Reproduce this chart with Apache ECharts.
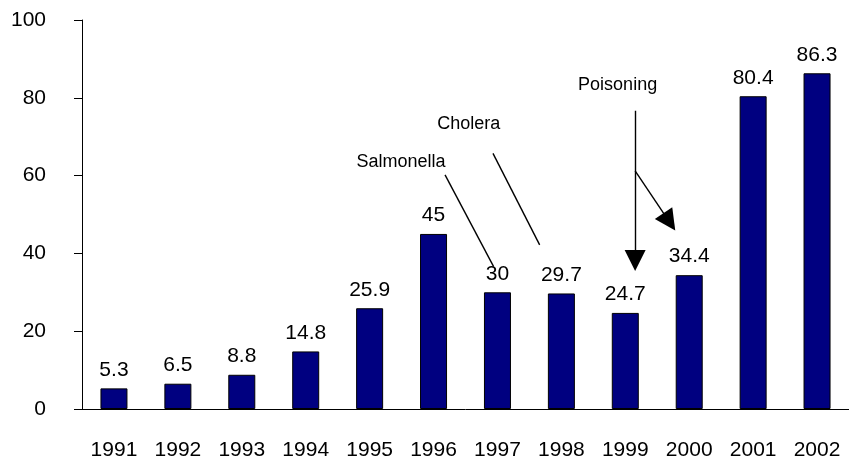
<!DOCTYPE html>
<html>
<head>
<meta charset="utf-8">
<script src="https://cdn.jsdelivr.net/npm/echarts@6/dist/echarts.min.js"></script>
<style>
  html, body { margin: 0; padding: 0; background: #fff; }
  #chart { width: 849px; height: 461px; }
</style>
</head>
<body>
<div id="chart"></div>
<script>
// data
var years = ['1991', '1992', '1993', '1994', '1995', '1996', '1997', '1998', '1999', '2000', '2001', '2002'];
var values = [5.3, 6.5, 8.8, 14.8, 25.9, 45, 30, 29.7, 24.7, 34.4, 80.4, 86.3];
var yTicks = [0, 100, 20]; // min, max, interval

// annotations, in (category position, value) units
var notes = [
  { text: 'Salmonella', at: [4.99, 63.4] },
  { text: 'Cholera', at: [6.05, 73.2] },
  { text: 'Poisoning', at: [8.38, 83.2] }
];
var plainLines = [
  [[5.68, 60.2], [6.44, 36.6]],
  [[6.43, 65.7], [7.16, 42.2]]
];
// arrow ends are the centres of the heads
var arrowLines = [
  [[8.654, 76.7], [8.654, 38.2]],
  [[8.654, 61.2], [9.19, 48.1]]
];

var font = 'Liberation Sans, Arial, sans-serif';

var chart = echarts.init(document.getElementById('chart'));

chart.setOption({
  animation: false,
  backgroundColor: '#fff',
  grid: { left: 82, top: 20, width: 770, height: 389 },
  xAxis: [{
    type: 'category',
    data: years,
    axisLine: { lineStyle: { color: '#000', width: 1 } },
    axisTick: { length: 8, lineStyle: { color: '#000' } },
    axisLabel: { color: '#000', fontSize: 21, fontFamily: font, margin: 31, interval: 0 }
  }, {
    // hidden helper axis for placing the annotations
    type: 'value', min: 0, max: 12, show: false
  }],
  yAxis: {
    type: 'value',
    min: yTicks[0], max: yTicks[1], interval: yTicks[2],
    splitLine: { show: false },
    axisLine: { show: true, lineStyle: { color: '#000', width: 1 } },
    axisTick: { show: true, length: 8, lineStyle: { color: '#000' } },
    axisLabel: { color: '#000', fontSize: 21, fontFamily: font, margin: 36 }
  },
  series: [{
    type: 'bar',
    data: values,
    barWidth: 27,
    itemStyle: { color: '#000080', borderColor: '#000', borderWidth: 1 },
    label: { show: true, position: 'top', distance: 8, color: '#000', fontSize: 21, fontFamily: font }
  }, {
    type: 'lines',
    coordinateSystem: 'cartesian2d',
    xAxisIndex: 1,
    symbol: 'none',
    lineStyle: { color: '#000', width: 1.4, opacity: 1 },
    data: plainLines.map(function (c) { return { coords: c }; }),
    silent: true
  }, {
    type: 'lines',
    coordinateSystem: 'cartesian2d',
    xAxisIndex: 1,
    symbol: ['none', 'triangle'],
    symbolSize: 21,
    lineStyle: { color: '#000', width: 1.4, opacity: 1 },
    data: arrowLines.map(function (c) { return { coords: c }; }),
    silent: true
  }, {
    type: 'scatter',
    xAxisIndex: 1,
    symbolSize: 0,
    itemStyle: { opacity: 1 },
    data: notes.map(function (n) { return { value: n.at, name: n.text }; }),
    label: {
      show: true, position: 'inside', formatter: '{b}',
      color: '#000', opacity: 1, fontSize: 18, fontFamily: font
    },
    silent: true
  }]
});
</script>
</body>
</html>
